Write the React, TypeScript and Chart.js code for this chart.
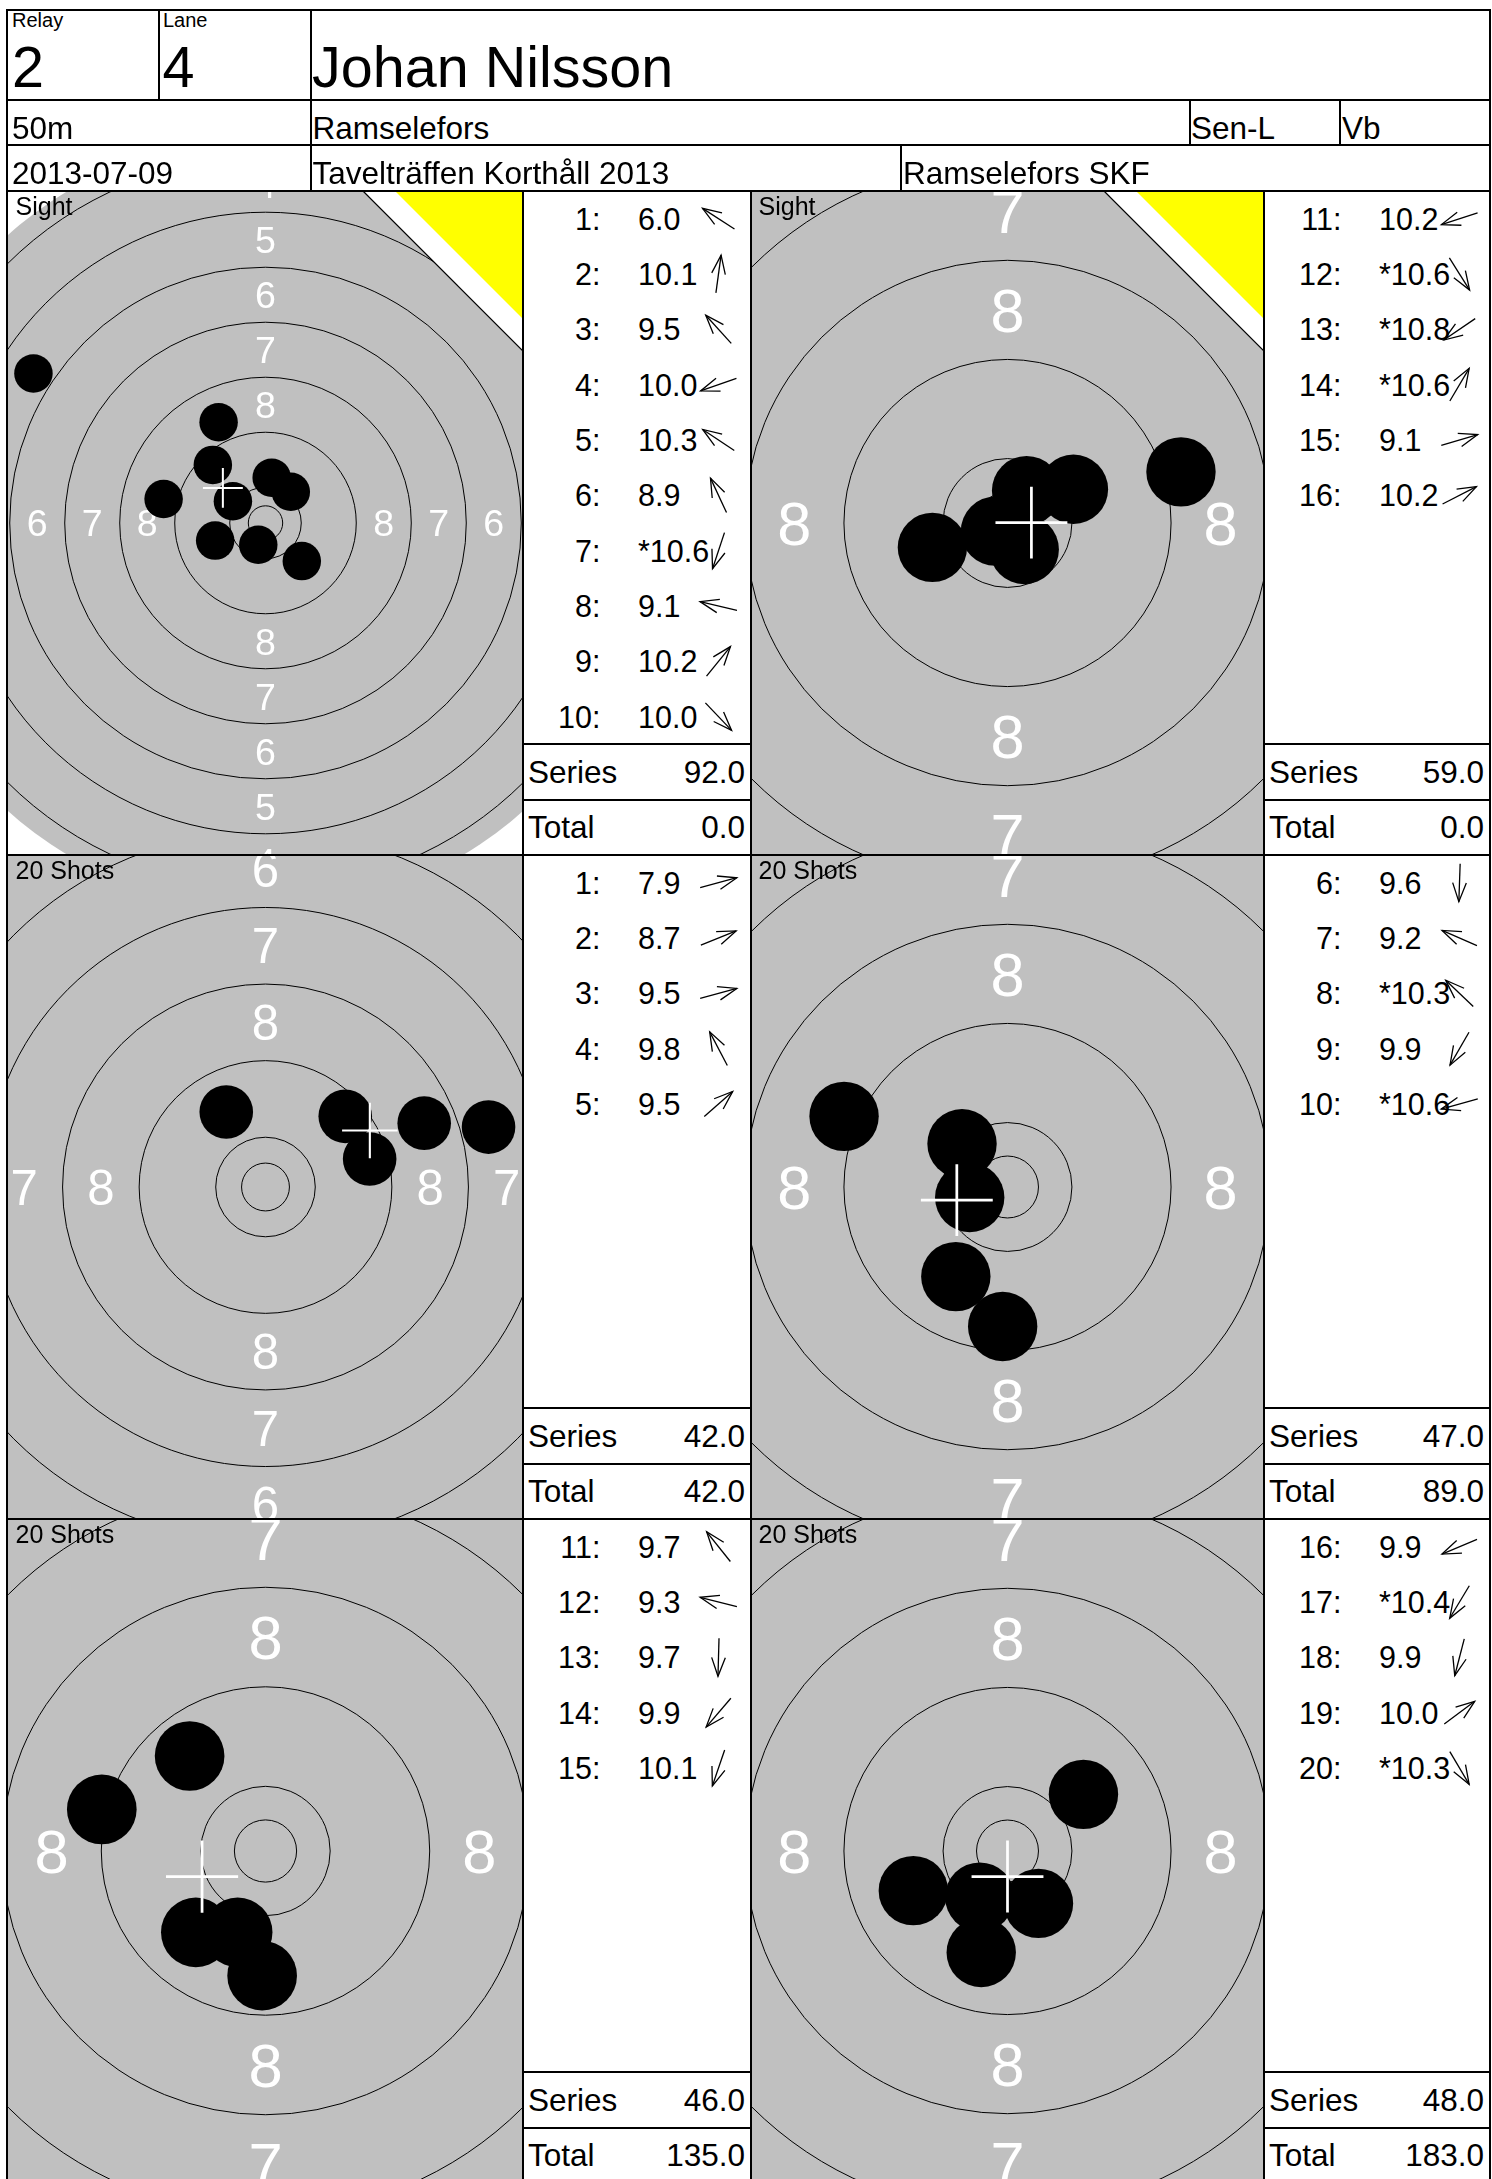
import React, { useEffect, useRef } from "react";
import { Chart, registerables } from "chart.js";

Chart.register(...registerables);

// ---------------- header data ----------------
const RELAY = "2";
const LANE = "4";
const SHOOTER = "Johan Nilsson";
const DISTANCE = "50m";
const CLUB_SHORT = "Ramselefors";
const SHOOTER_CLASS = "Sen-L";
const WEAPON_GROUP = "Vb";
const DATE = "2013-07-09";
const COMPETITION = "Tavelträffen Korthåll 2013";
const CLUB = "Ramselefors SKF";

// ---------------- panel data ----------------
const PANEL_TITLES = ["Sight", "Sight", "20 Shots", "20 Shots", "20 Shots", "20 Shots"];
const PANEL_FIRST_SHOT = [1, 11, 1, 6, 11, 16];
const PANEL_SIGHTING = [true, true, false, false, false, false];
const PANEL_VIEW_MM = [37.45, 20.7, 26.9, 20.7, 20.7, 20.7]; // visible half width in mm

// sighting shots 1-10
const P1_SCORES = [6.0, 10.1, 9.5, 10.0, 10.3, 8.9, 10.6, 9.1, 10.2, 10.0];
const P1_INNER = [7];
const P1_X = [-33.75, 0.9, -7.66, -7.32, -4.74, -6.82, -1.05, -14.82, 3.68, 5.28];
const P1_Y = [21.75, 6.59, 8.45, -2.56, 3.17, 14.66, -3.17, 3.48, 4.54, -5.54];

// sighting shots 11-16
const P2_SCORES = [10.2, 10.6, 10.8, 10.6, 9.1, 10.2];
const P2_INNER = [12, 13, 14];
const P2_X = [-6.06, 1.35, -0.97, 1.54, 14.0, 5.32];
const P2_Y = [-1.97, -2.14, -0.66, 2.61, 4.13, 2.72];

// match shots 1-5
const P3_SCORES = [7.9, 8.7, 9.5, 9.8, 9.5];
const P3_INNER: number[] = [];
const P3_X = [23.3, 16.58, 10.88, -4.1, 8.33];
const P3_Y = [6.26, 6.67, 2.92, 7.83, 7.38];

// match shots 6-10
const P4_SCORES = [9.6, 9.2, 10.3, 9.9, 10.6];
const P4_INNER = [8, 10];
const P4_X = [-0.39, -13.19, -3.67, -4.17, -3.05];
const P4_Y = [-11.26, 5.7, 3.49, -7.23, -0.85];

// match shots 11-15
const P5_SCORES = [9.7, 9.3, 9.7, 9.9, 10.1];
const P5_INNER: number[] = [];
const P5_X = [-6.1, -13.16, -0.27, -5.6, -2.24];
const P5_Y = [7.64, 3.34, -10.02, -6.54, -6.54];

// match shots 16-20
const P6_SCORES = [9.9, 10.4, 9.9, 10.0, 10.3];
const P6_INNER = [17, 20];
const P6_X = [-7.6, -2.24, -2.12, 6.13, 2.5];
const P6_Y = [-3.2, -3.72, -8.19, 4.57, -4.23];

// mean point of impact (white cross), mm
const MPI_X = [-6.2, 1.93, 10.9, -4.09, -5.1, 0.0];
const MPI_Y = [5.1, 0.03, 5.9, -1.06, -2.06, -2.06];

const SERIES = [92.0, 59.0, 42.0, 47.0, 46.0, 48.0];
const TOTALS = [0.0, 0.0, 42.0, 89.0, 135.0, 183.0];

const PANELS = [
  { scores: P1_SCORES, inner: P1_INNER, xs: P1_X, ys: P1_Y },
  { scores: P2_SCORES, inner: P2_INNER, xs: P2_X, ys: P2_Y },
  { scores: P3_SCORES, inner: P3_INNER, xs: P3_X, ys: P3_Y },
  { scores: P4_SCORES, inner: P4_INNER, xs: P4_X, ys: P4_Y },
  { scores: P5_SCORES, inner: P5_INNER, xs: P5_X, ys: P5_Y },
  { scores: P6_SCORES, inner: P6_INNER, xs: P6_X, ys: P6_Y },
];

// ---------------- target geometry (ISSF 50 m rifle, mm) ----------------
const INNER_TEN_R = 2.5;
const TEN_R = 5.2;
const RING_STEP = 8;
const AIM_R = 56.2;
const BULLET_R = 2.8;
const RING_RADII = [INNER_TEN_R, ...Array.from({ length: 10 }, (_, i) => TEN_R + RING_STEP * i)];

// ---------------- styles / layout ----------------
const FONT = '"Liberation Sans", Arial, Helvetica, sans-serif';
const AIM_GREY = "#c0c0c0";
const SIGHT_YELLOW = "#ffff00";
const PAGE_W = 1492;
const PAGE_H = 2179;
const FRAME_L = 7;
const FRAME_R = 1490;
const PANEL_TOPS = [191, 855, 1519];
const PANEL_H = 664;
const ROW_H = PANEL_H / 12;
const COLS = [
  { tx: 8, tw: 515, sx: 523, sw: 228 },
  { tx: 751, tw: 513, sx: 1264, sw: 226 },
];
const LW = 2;

const targetPlugin = {
  id: "target",
  beforeDatasetsDraw(chart: any, _args: any, opts: any) {
    const { ctx, chartArea: a } = chart;
    const sx = chart.scales.x;
    const sy = chart.scales.y;
    const cx = sx.getPixelForValue(0);
    const cy = sy.getPixelForValue(0);
    const k = sx.getPixelForValue(1) - cx;
    const w = a.right - a.left;
    const h = a.bottom - a.top;
    ctx.save();
    ctx.beginPath();
    ctx.rect(a.left, a.top, w, h);
    ctx.clip();
    ctx.fillStyle = "#ffffff";
    ctx.fillRect(a.left, a.top, w, h);
    ctx.fillStyle = AIM_GREY;
    ctx.beginPath();
    ctx.arc(cx, cy, AIM_R * k, 0, Math.PI * 2);
    ctx.fill();
    ctx.strokeStyle = "#000";
    ctx.lineWidth = 1;
    RING_RADII.forEach((r) => {
      ctx.beginPath();
      ctx.arc(cx, cy, r * k, 0, Math.PI * 2);
      ctx.stroke();
    });
    const fs = 4.3 * k + 8;
    ctx.font = `${fs}px ${FONT}`;
    ctx.textAlign = "center";
    ctx.textBaseline = "alphabetic";
    const off = 0.358 * fs;
    for (let n = 1; n <= 8; n++) {
      const r = TEN_R + RING_STEP * (9 - n) + RING_STEP / 2;
      ctx.fillStyle = r < AIM_R ? "#ffffff" : "#000000";
      const pts = [
        [cx, cy - r * k],
        [cx, cy + r * k],
        [cx - r * k, cy],
        [cx + r * k, cy],
      ];
      pts.forEach(([px, py]) => ctx.fillText(String(n), px, py + off));
    }
    if (opts.sighting) {
      const R = a.right;
      const T = a.top;
      ctx.fillStyle = "#ffffff";
      ctx.beginPath();
      ctx.moveTo(R - 160, T);
      ctx.lineTo(R, T);
      ctx.lineTo(R, T + 160);
      ctx.closePath();
      ctx.fill();
      ctx.fillStyle = SIGHT_YELLOW;
      ctx.beginPath();
      ctx.moveTo(R - 128, T);
      ctx.lineTo(R, T);
      ctx.lineTo(R, T + 128);
      ctx.closePath();
      ctx.fill();
      ctx.strokeStyle = "#000";
      ctx.lineWidth = 1.2;
      ctx.beginPath();
      ctx.moveTo(R - 160, T);
      ctx.lineTo(R, T + 160);
      ctx.stroke();
    }
    ctx.restore();
  },
  afterDatasetsDraw(chart: any, _args: any, opts: any) {
    const { ctx } = chart;
    const sx = chart.scales.x;
    const sy = chart.scales.y;
    const k = sx.getPixelForValue(1) - sx.getPixelForValue(0);
    const px = sx.getPixelForValue(opts.mpi[0]);
    const py = sy.getPixelForValue(opts.mpi[1]);
    const hl = 2.9 * k;
    ctx.save();
    ctx.strokeStyle = "#ffffff";
    ctx.lineWidth = Math.max(2, 0.22 * k);
    ctx.beginPath();
    ctx.moveTo(px - hl, py);
    ctx.lineTo(px + hl, py);
    ctx.moveTo(px, py - hl);
    ctx.lineTo(px, py + hl);
    ctx.stroke();
    ctx.restore();
  },
};

function Target({ idx }: { idx: number }) {
  const ref = useRef<HTMLCanvasElement>(null);
  const col = COLS[idx % 2];
  const top = PANEL_TOPS[Math.floor(idx / 2)];
  useEffect(() => {
    const p = PANELS[idx];
    const halfX = PANEL_VIEW_MM[idx];
    const k = col.tw / 2 / halfX;
    const halfY = PANEL_H / 2 / k;
    const radius = (c: any) => {
      const s = c.chart.scales.x;
      return Math.abs(s.getPixelForValue(BULLET_R) - s.getPixelForValue(0));
    };
    const chart = new Chart(ref.current as HTMLCanvasElement, {
      type: "scatter",
      data: {
        datasets: [
          {
            data: p.xs.map((x, j) => ({ x, y: p.ys[j] })),
            backgroundColor: "#000000",
            borderColor: "#000000",
            pointBorderWidth: 0,
            pointRadius: radius,
            pointHoverRadius: radius,
          } as any,
        ],
      },
      options: {
        animation: false,
        responsive: false,
        maintainAspectRatio: false,
        events: [],
        layout: { padding: 0 },
        scales: {
          x: { type: "linear", min: -halfX, max: halfX, display: false },
          y: { type: "linear", min: -halfY, max: halfY, display: false },
        },
        plugins: {
          legend: { display: false },
          tooltip: { enabled: false },
          target: { sighting: PANEL_SIGHTING[idx], mpi: [MPI_X[idx], MPI_Y[idx]] },
        } as any,
      },
      plugins: [targetPlugin as any],
    });
    return () => chart.destroy();
  }, [idx]);
  return (
    <canvas
      ref={ref}
      width={col.tw}
      height={PANEL_H}
      style={{ position: "absolute", left: col.tx, top, width: col.tw, height: PANEL_H }}
    />
  );
}

function Txt({
  x,
  base,
  fs,
  children,
  right,
}: {
  x: number;
  base: number;
  fs: number;
  children: React.ReactNode;
  right?: boolean;
}) {
  return (
    <div
      style={{
        position: "absolute",
        left: x,
        top: base - 0.8465 * fs,
        fontSize: fs,
        lineHeight: `${fs}px`,
        whiteSpace: "nowrap",
        fontFamily: FONT,
        color: "#000",
        transform: right ? "translateX(-100%)" : undefined,
      }}
    >
      {children}
    </div>
  );
}

function ScoreColumn({ idx }: { idx: number }) {
  const col = COLS[idx % 2];
  const top = PANEL_TOPS[Math.floor(idx / 2)];
  const p = PANELS[idx];
  const fs = 30.5;
  const fs2 = 31.5;
  const arrowCx = 195.5;
  const half = 19;
  const head = 20;
  const hAng = (20 * Math.PI) / 180;
  return (
    <>
      {p.scores.map((s, j) => {
        const n = PANEL_FIRST_SHOT[idx] + j;
        const base = top + (j + 0.5) * ROW_H + 0.36 * fs;
        const txt = (p.inner.includes(n) ? "*" : "") + s.toFixed(1);
        return (
          <React.Fragment key={j}>
            <Txt x={col.sx + 77.5} base={base} fs={fs} right>
              {n}:
            </Txt>
            <Txt x={col.sx + 115} base={base} fs={fs}>
              {txt}
            </Txt>
          </React.Fragment>
        );
      })}
      <svg
        width={col.sw}
        height={PANEL_H}
        style={{ position: "absolute", left: col.sx, top, overflow: "visible" }}
      >
        {p.xs.map((x, j) => {
          const ang = Math.atan2(p.ys[j], x);
          const ux = Math.cos(ang);
          const uy = -Math.sin(ang);
          const cx = arrowCx;
          const cy = (j + 0.5) * ROW_H;
          const tx = cx + ux * half;
          const ty = cy + uy * half;
          const bx = cx - ux * half;
          const by = cy - uy * half;
          const h1x = tx - head * (ux * Math.cos(hAng) - uy * Math.sin(hAng));
          const h1y = ty - head * (uy * Math.cos(hAng) + ux * Math.sin(hAng));
          const h2x = tx - head * (ux * Math.cos(-hAng) - uy * Math.sin(-hAng));
          const h2y = ty - head * (uy * Math.cos(-hAng) + ux * Math.sin(-hAng));
          return (
            <g key={j} stroke="#000" strokeWidth={1.3} fill="none">
              <line x1={bx} y1={by} x2={tx} y2={ty} />
              <polyline points={`${h1x},${h1y} ${tx},${ty} ${h2x},${h2y}`} />
            </g>
          );
        })}
      </svg>
      <Txt x={col.sx + 5} base={top + 10.5 * ROW_H + 0.36 * fs2} fs={fs2}>
        Series
      </Txt>
      <Txt x={col.sx + col.sw - 6} base={top + 10.5 * ROW_H + 0.36 * fs2} fs={fs2} right>
        {SERIES[idx].toFixed(1)}
      </Txt>
      <Txt x={col.sx + 5} base={top + 11.5 * ROW_H + 0.36 * fs2} fs={fs2}>
        Total
      </Txt>
      <Txt x={col.sx + col.sw - 6} base={top + 11.5 * ROW_H + 0.36 * fs2} fs={fs2} right>
        {TOTALS[idx].toFixed(1)}
      </Txt>
      <Txt x={col.tx + 7.5} base={top + 24} fs={25}>
        {PANEL_TITLES[idx]}
      </Txt>
    </>
  );
}

function HL({ y, x1, x2 }: { y: number; x1: number; x2: number }) {
  return (
    <div
      style={{
        position: "absolute",
        left: x1 - LW / 2,
        top: y - LW / 2,
        width: x2 - x1 + LW,
        height: LW,
        background: "#000",
      }}
    />
  );
}
function VL({ x, y1, y2 }: { x: number; y1: number; y2: number }) {
  return (
    <div
      style={{
        position: "absolute",
        left: x - LW / 2,
        top: y1 - LW / 2,
        width: LW,
        height: y2 - y1 + LW,
        background: "#000",
      }}
    />
  );
}

function Frame() {
  const bottom = PAGE_H + 10;
  const lines: React.ReactNode[] = [];
  [9.5, 99.5, 144.5, ...PANEL_TOPS].forEach((y, i) =>
    lines.push(<HL key={"h" + i} y={y} x1={FRAME_L} x2={FRAME_R} />)
  );
  PANEL_TOPS.forEach((t, r) =>
    COLS.forEach((c, ci) => {
      lines.push(<HL key={`s${r}${ci}`} y={t + 10 * ROW_H} x1={c.sx} x2={c.sx + c.sw} />);
      lines.push(<HL key={`t${r}${ci}`} y={t + 11 * ROW_H} x1={c.sx} x2={c.sx + c.sw} />);
    })
  );
  lines.push(<VL key="vl" x={FRAME_L} y1={9.5} y2={bottom} />);
  lines.push(<VL key="vr" x={FRAME_R} y1={9.5} y2={bottom} />);
  lines.push(<VL key="v1" x={159} y1={9.5} y2={99.5} />);
  lines.push(<VL key="v2" x={311} y1={9.5} y2={191} />);
  lines.push(<VL key="v3" x={1189.5} y1={99.5} y2={144.5} />);
  lines.push(<VL key="v4" x={1340} y1={99.5} y2={144.5} />);
  lines.push(<VL key="v5" x={901} y1={144.5} y2={191} />);
  lines.push(<VL key="v6" x={523} y1={191} y2={bottom} />);
  lines.push(<VL key="v7" x={751} y1={191} y2={bottom} />);
  lines.push(<VL key="v8" x={1264} y1={191} y2={bottom} />);
  return <>{lines}</>;
}

function Header() {
  return (
    <>
      <Txt x={12} base={27} fs={20}>Relay</Txt>
      <Txt x={163} base={27} fs={20}>Lane</Txt>
      <Txt x={12} base={87.3} fs={57.5}>{RELAY}</Txt>
      <Txt x={162.5} base={87.3} fs={57.5}>{LANE}</Txt>
      <Txt x={312} base={87.3} fs={57.5}>{SHOOTER}</Txt>
      <Txt x={12} base={140} fs={31.5}>{DISTANCE}</Txt>
      <Txt x={312.5} base={140} fs={31.5}>{CLUB_SHORT}</Txt>
      <Txt x={1191} base={140} fs={31.5}>{SHOOTER_CLASS}</Txt>
      <Txt x={1342} base={140} fs={31.5}>{WEAPON_GROUP}</Txt>
      <Txt x={12} base={185} fs={31.5}>{DATE}</Txt>
      <Txt x={312.5} base={185} fs={31.5}>{COMPETITION}</Txt>
      <Txt x={903} base={185} fs={31.5}>{CLUB}</Txt>
    </>
  );
}

export default function App() {
  return (
    <div
      style={{
        position: "absolute",
        left: 0,
        top: 0,
        width: PAGE_W,
        height: PAGE_H,
        overflow: "hidden",
        background: "#fff",
        fontFamily: FONT,
      }}
    >
      {PANELS.map((_, i) => (
        <Target key={"t" + i} idx={i} />
      ))}
      {PANELS.map((_, i) => (
        <ScoreColumn key={"s" + i} idx={i} />
      ))}
      <Header />
      <Frame />
    </div>
  );
}
